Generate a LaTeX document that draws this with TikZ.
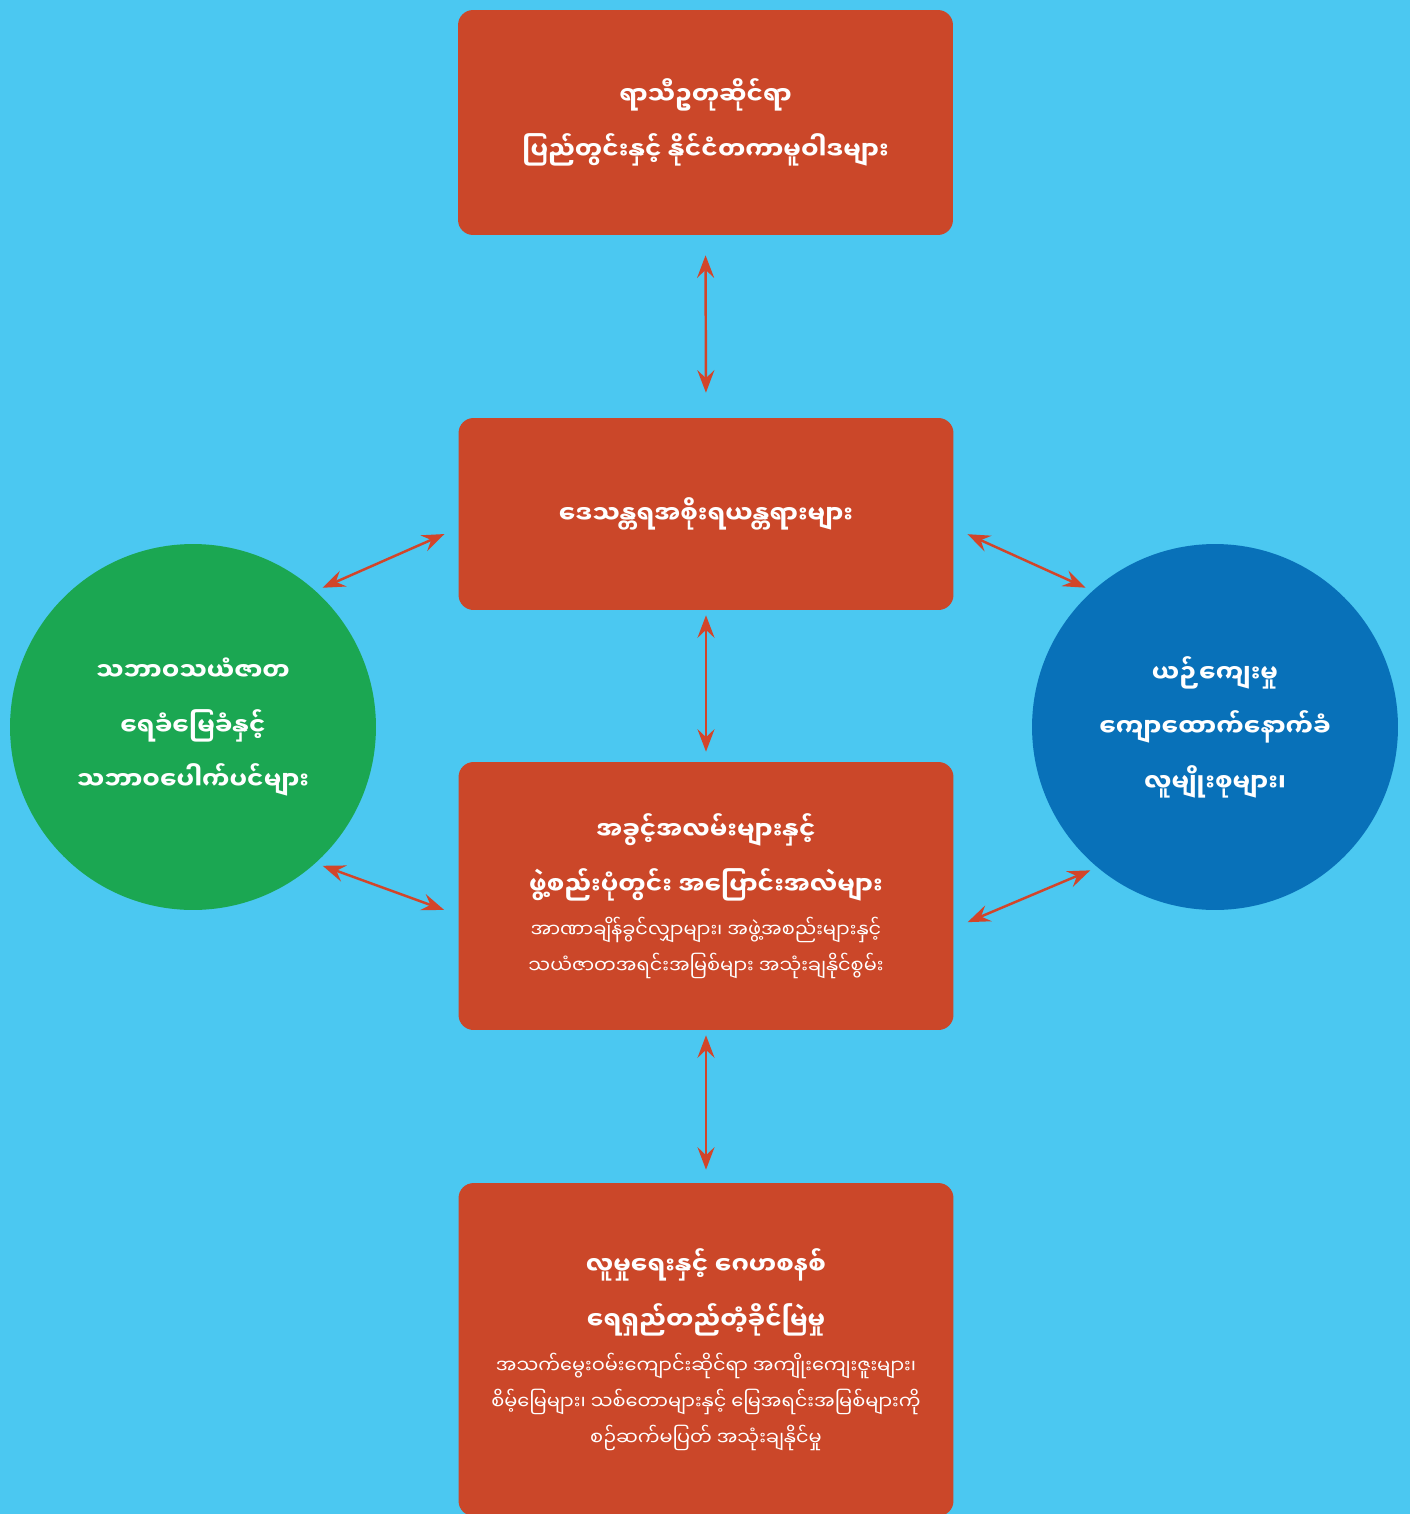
\documentclass[tikz,border=0pt]{standalone}
\usepackage{fontspec}
\usetikzlibrary{arrows.meta, positioning}
\newfontfamily\mmfont[Script=Myanmar]{Noto Sans Myanmar UI}
\definecolor{skyback}{HTML}{4BC8F1}
\definecolor{brick}{HTML}{CB4729}
\definecolor{leaf}{HTML}{1BA752}
\definecolor{ocean}{HTML}{0871B9}
\definecolor{linkred}{HTML}{D2452A}
\newcommand{\smalltxt}{\mdseries\fontsize{11}{20.5}\selectfont}

\begin{document}
\begin{tikzpicture}[
    x=0.02cm, y=-0.02cm, % one unit is one pixel of the layout
    every node/.style={text=white, align=center, font=\mmfont\bfseries\fontsize{14}{31}\selectfont},
    box/.style={rectangle, fill=brick, rounded corners=0.3cm, minimum width=9.9cm, inner sep=0pt},
    blob/.style={circle, minimum size=7.32cm, inner sep=0pt}, % the two side circles
    link/.style={draw=linkred, line width=1.4pt, >={Stealth[length=0.45cm, width=0.34cm, inset=0.16cm]}, <->}
  ]
  \useasboundingbox (0,0) rectangle (1410,1514);
  \fill[skyback] (0,0) rectangle (1410,1514);

  \node[box, minimum height=4.5cm] (policy) at (705.5,122.5) {ရာသီဥတုဆိုင်ရာ\\ပြည်တွင်းနှင့် နိုင်ငံတကာမူဝါဒများ};
  \node[box, minimum height=3.84cm] (localgov) at (706,514) {ဒေသန္တရအစိုးရယန္တရားများ};
  \node[box, minimum height=5.36cm] (change) at (706,896) {အခွင့်အလမ်းများနှင့်\\ဖွဲ့စည်းပုံတွင်း အပြောင်းအလဲများ\\[-6pt]
    \smalltxt အာဏာချိန်ခွင်လျှာများ၊ အဖွဲ့အစည်းများနှင့်\\[-11pt]
    \smalltxt သယံဇာတအရင်းအမြစ်များ အသုံးချနိုင်စွမ်း};
  \node[box, minimum height=6.66cm] (sustain) at (706,1349.5) {လူမှုရေးနှင့် ဂေဟစနစ်\\ရေရှည်တည်တံ့ခိုင်မြဲမှု\\[-6pt]
    \smalltxt အသက်မွေးဝမ်းကျောင်းဆိုင်ရာ အကျိုးကျေးဇူးများ၊\\[-10.5pt]
    \smalltxt စိမ့်မြေများ၊ သစ်တောများနှင့် မြေအရင်းအမြစ်များကို\\[-10.5pt]
    \smalltxt စဉ်ဆက်မပြတ် အသုံးချနိုင်မှု};
  \node[blob, fill=leaf] (nature) at (193,727) {သဘာဝသယံဇာတ\\ရေခံမြေခံနှင့်\\သဘာဝပေါက်ပင်များ};
  \node[blob, fill=ocean] (ethnic) at (1215,727) {ယဉ်ကျေးမှု\\ကျောထောက်နောက်ခံ\\လူမျိုးစုများ၊};

  % vertical links
  \draw[link, shorten <=0.4cm, shorten >=0.5cm] (policy.south) -- (localgov.north);
  \draw[link, shorten <=0.1cm, shorten >=0.2cm] (localgov.south) -- (change.north);
  \draw[link, shorten <=0.1cm, shorten >=0.26cm] (change.south) -- (sustain.north);
  % links to the circles
  \draw[link, shorten <=0.15cm, shorten >=0.3cm] (nature.48) -- ([yshift=-0.28cm]localgov.west);
  \draw[link, shorten <=0.3cm, shorten >=0.15cm] ([yshift=-0.28cm]localgov.east) -- (ethnic.132);
  \draw[link, shorten <=0.15cm, shorten >=0.3cm] (nature.-48) -- ([yshift=-0.38cm]change.west);
  \draw[link, shorten <=0.3cm, shorten >=0.15cm] ([yshift=-0.64cm]change.east) -- (ethnic.230);
\end{tikzpicture}
\end{document}
